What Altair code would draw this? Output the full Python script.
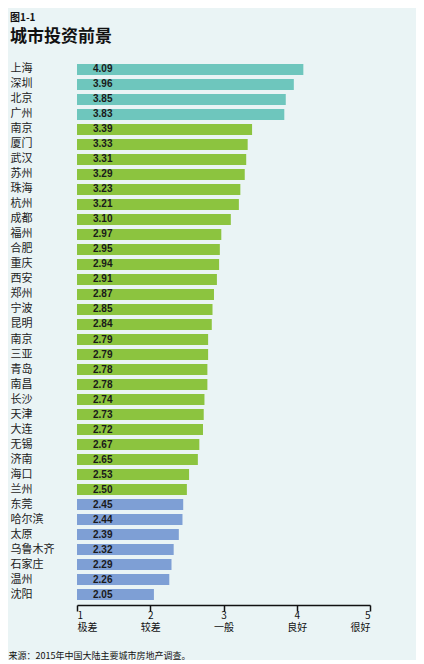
import json

import altair as alt
import pandas as pd


CITIES = [
    '上海', '深圳', '北京', '广州', '南京', '厦门', '武汉', '苏州', '珠海', '杭州',
    '成都', '福州', '合肥', '重庆', '西安', '郑州', '宁波', '昆明', '南京', '三亚',
    '青岛', '南昌', '长沙', '天津', '大连', '无锡', '济南', '海口', '兰州', '东莞',
    '哈尔滨', '太原', '乌鲁木齐', '石家庄', '温州', '沈阳',
]
SCORES = [
    4.09, 3.96, 3.85, 3.83, 3.39, 3.33, 3.31, 3.29, 3.23, 3.21,
    3.10, 2.97, 2.95, 2.94, 2.91, 2.87, 2.85, 2.84, 2.79, 2.79,
    2.78, 2.78, 2.74, 2.73, 2.72, 2.67, 2.65, 2.53, 2.50, 2.45,
    2.44, 2.39, 2.32, 2.29, 2.26, 2.05,
]
GROUPS = ['top'] * 4 + ['mid'] * 25 + ['low'] * 7
TICK_WORDS = ['极差', '较差', '一般', '良好', '很好']

_GROUP_COLORS = {
    'top': '#6ec6bd',
    'mid': '#8cc43f',
    'low': '#7e9fd5',
}

FONT = 'Noto Sans CJK SC'
BG = '#eaf4f5'

frame = pd.DataFrame({
    'idx': list(range(len(CITIES))),
    'city': CITIES,
    'score': SCORES,
    'group': GROUPS,
    'label': [f'{s:.2f}' for s in SCORES],
})

city_expr = json.dumps(CITIES, ensure_ascii=False) + '[datum.value]'
tick_expr = '[format(datum.value, "d"), ' + json.dumps(TICK_WORDS, ensure_ascii=False) + '[datum.value - 1]]'

x_scale = alt.Scale(domain=[1, 5], nice=False, zero=False)

base = alt.Chart(frame)

bars = base.mark_bar(size=11).encode(
    x=alt.X(
        'score:Q',
        scale=x_scale,
        axis=alt.Axis(
            values=[1, 2, 3, 4, 5],
            labelExpr=tick_expr,
            title='来源：2015年中国大陆主要城市房地产调查。',
            titleFont=FONT,
            titleFontSize=9,
            titleFontWeight='normal',
            titleColor='#111111',
            titleAlign='left',
            titleAnchor='start',
            titleX=-69,
            titleY=46,
            labelFont=FONT,
            labelFontSize=10,
            labelColor='#111111',
            labelLineHeight=12,
            labelPadding=-1,
            labelBaseline='top',
            domainColor='#111111',
            domainWidth=1.5,
            tickColor='#111111',
            tickWidth=1.5,
            tickSize=6,
            offset=3,
            grid=False,
        ),
    ),
    x2=alt.X2(datum=1),
    y=alt.Y(
        'idx:O',
        sort='ascending',
        scale=alt.Scale(paddingInner=0.27, paddingOuter=0.13),
        axis=alt.Axis(
            labelExpr=city_expr,
            title=None,
            ticks=False,
            domain=False,
            labelAlign='left',
            labelPadding=67,
            labelFont=FONT,
            labelFontSize=11,
            labelColor='#222222',
        ),
    ),
    color=alt.Color(
        'group:N',
        scale=alt.Scale(domain=list(_GROUP_COLORS.keys()), range=list(_GROUP_COLORS.values())),
        legend=None,
    ),
)

values = base.mark_text(
    align='left', baseline='middle', dx=16, font='Liberation Sans', fontSize=10,
    fontWeight='bold', color='#1a1a1a',
).encode(
    x=alt.X(datum=1, scale=x_scale),
    y=alt.Y('idx:O', sort='ascending'),
    text='label:N',
)

chart = alt.layer(bars, values).properties(
    width=293,
    height=540,
    autosize='none',
    padding={'left': 69, 'top': 54, 'right': 46, 'bottom': 58},
    background=BG,
    title=alt.TitleParams(
        text='图1-1',
        subtitle='城市投资前景',
        anchor='start',
        frame='group',
        dx=-67,
        offset=17,
        font=FONT,
        fontSize=10,
        fontWeight='bold',
        color='#111111',
        subtitleFont=FONT,
        subtitleFontSize=17,
        subtitleFontWeight='bold',
        subtitleColor='#111111',
        subtitlePadding=6,
    ),
).configure_view(stroke=None)

chart.save('out.html', embed_options={'renderer': 'svg', 'actions': False})
